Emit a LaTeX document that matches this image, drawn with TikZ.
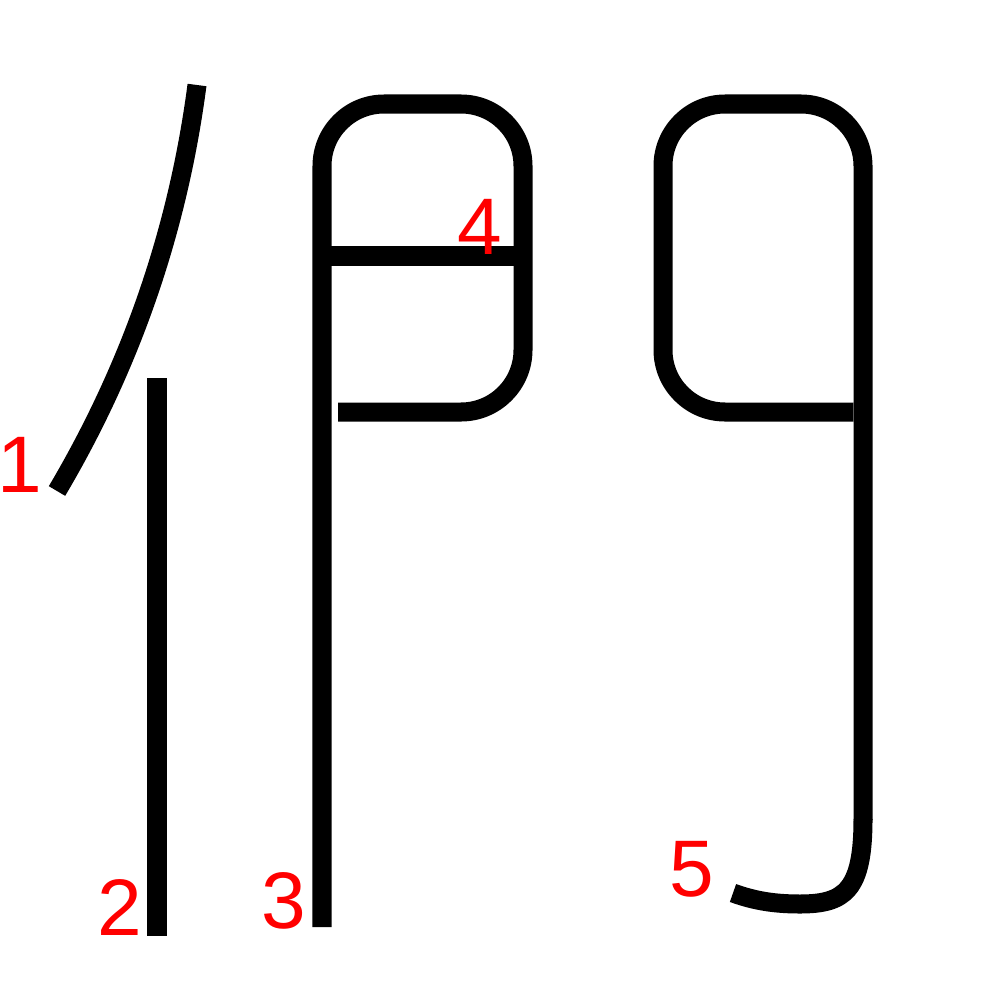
\documentclass[tikz,border=0pt]{standalone}
\usepackage{fontspec}
\setmainfont{Liberation Sans}

\begin{document}
\begin{tikzpicture}[x=0.01cm, y=-0.01cm,
    stroke/.style={line width=0.19cm, line cap=butt, line join=round},
    num/.style={text=red, inner sep=0pt, font=\fontsize{22.8pt}{24pt}\selectfont}]

    \useasboundingbox (0,0) rectangle (1000,1000);

    % strokes
    \draw[stroke] (197,85) .. controls (178,230) and (131,366) .. (57,491);
    \draw[stroke] (157,378) -- (157,936);
    \draw[stroke, rounded corners=0.62cm] (322,927) -- (322,104) -- (523,104)
        -- (523,412) -- (338,412);
    \draw[stroke] (322,256) -- (514,256);
    \draw[stroke, rounded corners=0.62cm] (853,412) -- (663,412) -- (663,104)
        -- (863,104) -- (863,820);
    \draw[stroke] (863,819) .. controls (863,890) and (845,904) .. (800,904)
        .. controls (775,904) and (755,901) .. (733,893);

    % stroke numbers
    \node[num] (n1) at (20,465) {1};
    \node[num] (n2) at (120,907) {2};
    \node[num] (n3) at (284,901) {3};
    \node[num] (n4) at (480,227) {4};
    \node[num] (n5) at (692,869) {5};
\end{tikzpicture}
\end{document}
